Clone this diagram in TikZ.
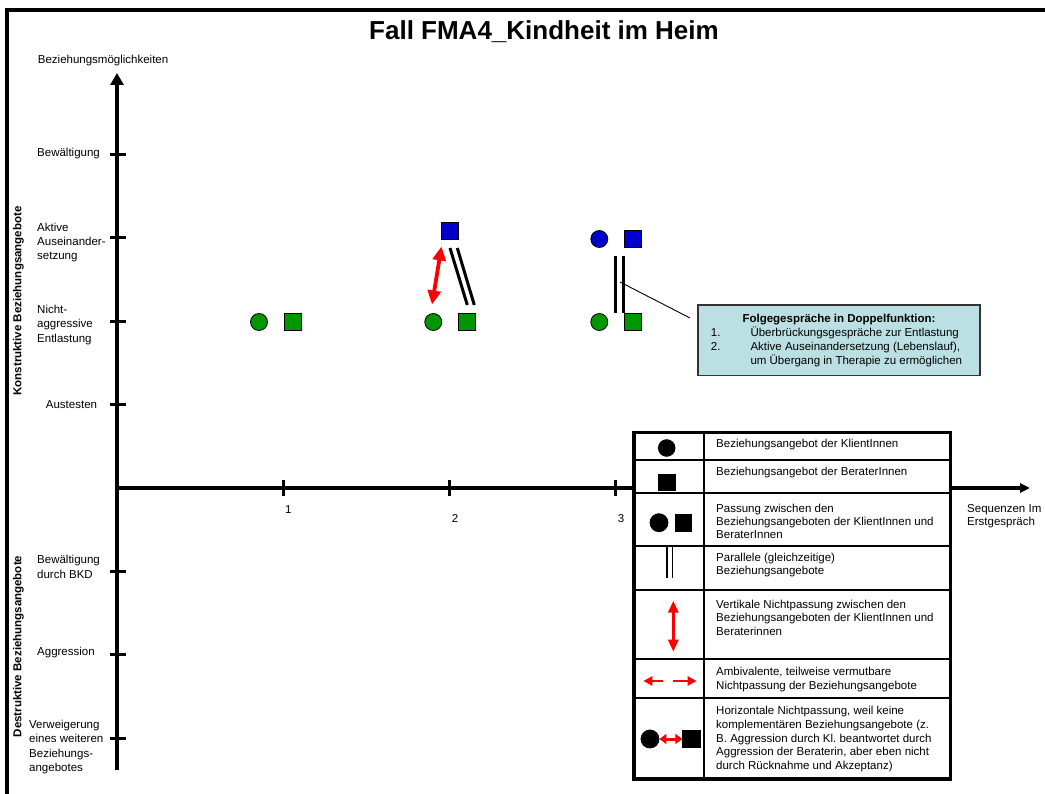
\documentclass[tikz,border=0pt]{standalone}
\usepackage{fontspec}
\setmainfont{Liberation Sans}
\usetikzlibrary{arrows.meta}
\definecolor{offergreen}{RGB}{0,150,0}
\definecolor{offerblue}{RGB}{0,0,204}
\definecolor{notefill}{RGB}{186,224,227}
\definecolor{misfit}{RGB}{255,0,0}
\frenchspacing

\begin{document}
\begin{tikzpicture}[x=1pt,y=-1pt,
  txt/.style={font=\fontsize{11.5}{14.3}\selectfont, inner sep=0pt, align=left, anchor=west},
  onetxt/.style={font=\fontsize{11.5}{14.3}\selectfont, inner sep=0pt, anchor=base west},
  legtxt/.style={font=\fontsize{11.5}{13.7}\selectfont, inner sep=0pt, align=left, anchor=west},
  sidetitle/.style={font=\fontsize{11.5}{13}\selectfont\bfseries, inner sep=0pt, rotate=90},
  num/.style={font=\fontsize{11.5}{13}\selectfont, inner sep=0pt, anchor=base},
  client/.style={circle, draw=black, line width=0.8pt, minimum size=17pt, inner sep=0pt},
  advisor/.style={rectangle, draw=black, line width=0.8pt, minimum size=17pt, inner sep=0pt},
  tickmark/.style={line width=3pt},
  parbar/.style={line width=3pt},
  mismatch/.style={draw=misfit, line width=3.8pt,
    {Triangle[length=14pt,width=13pt]}-{Triangle[length=14pt,width=13pt]}},
]
\useasboundingbox (0,0) rectangle (1045,794);

% frame and title
\draw[line width=4pt] (7,794) -- (7,10) -- (1045,10);
\node[font=\fontsize{26}{30}\selectfont\bfseries, inner sep=0pt, anchor=base]
  (title) at (544,39.3) {Fall FMA4\_Kindheit im Heim};

% axes
\coordinate (origin) at (117,488);
\coordinate (ytop) at (117,73);
\coordinate (ybottom) at (117,770);
\coordinate (xend) at (1030,488);
\draw[line width=4pt, -{Triangle[length=12pt,width=13pt]}] (ybottom) -- (ytop);
\draw[line width=3.5pt, -{Triangle[length=10pt,width=9pt]}] (origin) -- (xend);

% ticks on the vertical axis
\foreach \y in {155,238,322,405,571,654,738}
  \draw[tickmark] (110,\y) -- (126,\y);
% ticks on the horizontal axis
\foreach \x in {283.3,449,615.7}
  \draw[tickmark] (\x,480) -- (\x,496);

% axis labels
\node[onetxt] (ylab) at (37.7,63.3) {Beziehungsmöglichkeiten};
\node[onetxt] (l1) at (37,156.7) {Bewältigung};
\node[txt] (l2) at (37,242.5) {Aktive\\Auseinander-\\setzung};
\node[txt] (l3) at (37,325) {Nicht-\\aggressive\\Entlastung};
\node[onetxt] (l4) at (45.7,409) {Austesten};
\node[txt] (l5) at (37,567) {Bewältigung\\durch BKD};
\node[onetxt] (l6) at (37,655) {Aggression};
\node[txt] (l7) at (29,747) {Verweigerung\\eines weiteren\\Beziehungs-\\angebotes};
\node[sidetitle] (konstr) at (18.5,301) {Konstruktive Beziehungsangebote};
\node[sidetitle] (destr) at (18.5,646.5) {Destruktive Beziehungsangebote};

\node[num] (n1) at (288.3,513.3) {1};
\node[num] (n2) at (455,522.3) {2};
\node[num] (n3) at (621,522.3) {3};
\node[txt, font=\fontsize{11.5}{12.5}\selectfont] (xlab) at (967,516.3) {Sequenzen Im\\Erstgespräch};

% sequence 1
\node[client, fill=offergreen] (k1) at (259,322) {};
\node[advisor, fill=offergreen] (b1) at (292.7,322) {};
% sequence 2
\node[client, fill=offergreen] (k2) at (433.3,322) {};
\node[advisor, fill=offergreen] (b2) at (467,322) {};
\node[advisor, fill=offerblue] (b2up) at (450,230.7) {};
\coordinate (m2top) at (441.5,246.5);
\coordinate (m2bot) at (432,304.5);
\draw[mismatch] (m2top) -- (m2bot);
\draw[parbar] (450,248) -- (467.3,305);
\draw[parbar] (457.3,248) -- (474.3,305);
% sequence 3
\node[client, fill=offergreen] (k3) at (599.3,322) {};
\node[advisor, fill=offergreen] (b3) at (632.7,322) {};
\node[client, fill=offerblue] (k3up) at (599.3,239) {};
\node[advisor, fill=offerblue] (b3up) at (632.7,239) {};
\draw[parbar] (615.7,256) -- (615.7,313.3);
\draw[parbar] (623.7,256) -- (623.7,313.3);

% callout
\node[draw=black!80, line width=1.5pt, fill=notefill, minimum width=282pt,
  minimum height=70.7pt, inner sep=0pt, font=\fontsize{11.5}{14}\selectfont]
  (note) at (839,340.4) {%
  \begin{tabular}{@{}p{39.6pt}@{}l@{\hspace{5pt}}}
  \multicolumn{2}{@{}c@{}}{\bfseries Folgegespräche in Doppelfunktion:}\\
  1. & Überbrückungsgespräche zur Entlastung\\
  2. & Aktive Auseinandersetzung (Lebenslauf),\\
     & um Übergang in Therapie zu ermöglichen
  \end{tabular}};
\coordinate (pin) at (620,282);
\coordinate (pinend) at (690,318);
\draw[line width=0.9pt] (pin) -- (pinend);

% legend table
\fill[white] (634,432.7) rectangle (950.3,779);
\draw[line width=2pt] (704.3,432.7) -- (704.3,779);
\foreach \y in {460.3,492.7,546,590,659,697.5}
  \draw[line width=2pt] (634,\y) -- (950.3,\y);
\draw[line width=3.5pt] (634,432.7) rectangle (950.3,779);

\node[client, fill=black, minimum size=16.7pt] (lk) at (666.7,448) {};
\node[onetxt] (t1) at (716,448) {Beziehungsangebot der KlientInnen};

\node[advisor, fill=black, minimum size=16.7pt] (lb) at (666.7,482.3) {};
\node[onetxt] (t2) at (716,475.7) {Beziehungsangebot der BeraterInnen};

\node[client, fill=black, minimum size=18pt] (lpk) at (659,522.7) {};
\node[advisor, fill=black, minimum size=16.7pt] (lpb) at (683.3,522.7) {};
\node[legtxt, font=\fontsize{11.5}{13.3}\selectfont] (t3) at (716,521.3)
  {Passung zwischen den\\Beziehungsangeboten der KlientInnen und\\BeraterInnen};

\draw[line width=1.6pt] (666.7,546.7) -- (666.7,578.3);
\draw[line width=1.6pt] (672.3,546.7) -- (672.3,578.3);
\node[legtxt, font=\fontsize{11.5}{13.3}\selectfont] (t4) at (716,564.7)
  {Parallele (gleichzeitige)\\Beziehungsangebote};

\coordinate (va) at (673.3,600.7);
\coordinate (vb) at (673.3,651.7);
\draw[draw=misfit, line width=3.3pt,
  {Triangle[length=12pt,width=10pt]}-{Triangle[length=12pt,width=10pt]}] (va) -- (vb);
\node[legtxt] (t5) at (716,617.7)
  {Vertikale Nichtpassung zwischen den\\Beziehungsangeboten der KlientInnen und\\Beraterinnen};

\coordinate (ha) at (663.3,681);
\coordinate (hb) at (643.3,681);
\coordinate (hc) at (673.3,681);
\coordinate (hd) at (696.7,681);
\draw[draw=misfit, line width=2.8pt, -{Triangle[length=9pt,width=9pt]}] (ha) -- (hb);
\draw[draw=misfit, line width=2.8pt, -{Triangle[length=9pt,width=9pt]}] (hc) -- (hd);
\node[legtxt] (t6) at (716,679.3)
  {Ambivalente, teilweise vermutbare\\Nichtpassung der Beziehungsangebote};

\node[client, fill=black, minimum size=18pt] (hk) at (650,739) {};
\node[advisor, fill=black, minimum size=17.6pt] (hbx) at (691.5,739) {};
\draw[draw=misfit, line width=3pt,
  {Triangle[length=7pt,width=10pt]}-{Triangle[length=7pt,width=10pt]}] (hk.east) -- (hbx.west);
\node[legtxt] (t7) at (716,739.3)
  {Horizontale Nichtpassung, weil keine\\komplementären Beziehungsangebote (z.\\B. Aggression durch Kl. beantwortet durch\\Aggression der Beraterin, aber eben nicht\\durch Rücknahme und Akzeptanz)};

\end{tikzpicture}
\end{document}
